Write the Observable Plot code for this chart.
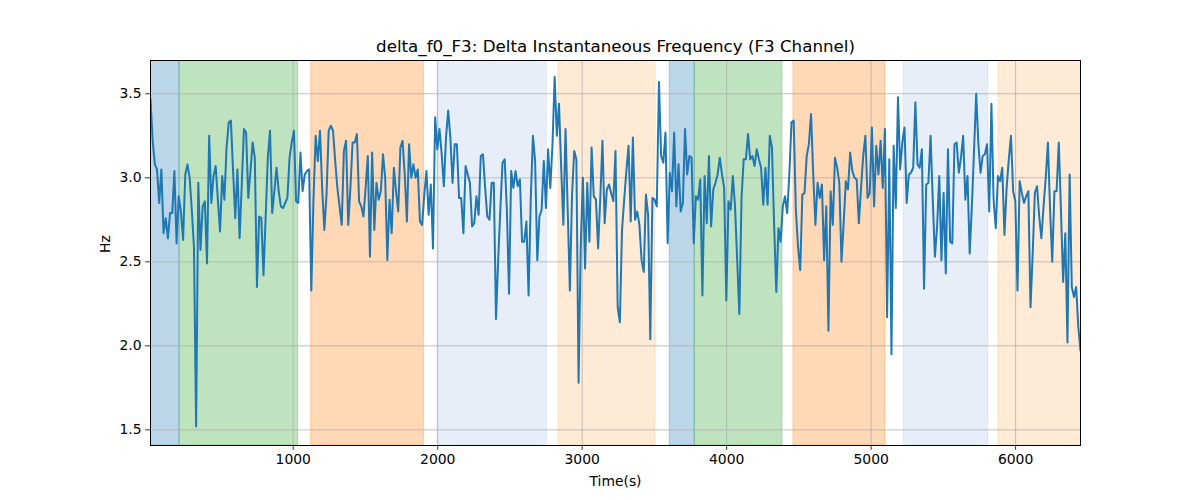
<!DOCTYPE html>
<html>
<head>
<meta charset="utf-8">
<script src="https://cdn.jsdelivr.net/npm/d3@7"></script>
<script src="https://cdn.jsdelivr.net/npm/@observablehq/plot@0.6"></script>
<style>
  body { margin: 0; background: #ffffff; }
  #chart svg { display: block; }
</style>
</head>
<body>
<div id="chart"></div>
<script>
// Sampled signal: uniform time steps starting at tStart
const tStart = 12;
const tStep = 15.04;
const values = [
  3.47, 3.22, 3.08, 3.05, 2.85, 3.05, 2.67, 2.76, 2.64, 2.79, 2.79, 3.04, 2.61, 2.89, 2.80, 2.63, 3.02, 3.08, 3.00, 2.81, 2.59, 1.52, 2.97, 2.57, 2.83, 2.86, 2.49, 3.25, 2.85, 3.01, 3.07, 2.87, 2.68, 3.01, 2.87,
  3.18, 3.33, 3.34, 3.04, 2.76, 3.05, 2.64, 2.96, 3.29, 3.27, 2.88, 3.04, 3.21, 3.12, 2.35, 2.77, 2.76, 2.42, 2.77, 3.12, 3.28, 2.79, 2.92, 3.06, 2.92, 2.83, 2.82, 2.85, 2.88, 3.12, 3.21, 3.28, 2.86, 2.85, 3.15, 2.92, 3.02,
  3.04, 3.05, 2.33, 2.87, 3.25, 3.10, 3.28, 2.94, 2.69, 2.90, 3.28, 3.31, 3.28, 3.10, 2.94, 2.83, 2.72, 3.16, 3.22, 2.72, 2.94, 3.21, 3.21, 3.26, 2.86, 2.83, 2.77, 2.94, 3.13, 2.53, 3.15, 2.69, 2.97, 2.87, 2.92, 3.14,
  3.00, 2.51, 2.87, 2.67, 3.06, 2.92, 2.80, 3.18, 3.22, 3.02, 2.74, 3.20, 3.00, 3.08, 3.00, 3.05, 2.74, 2.72, 2.90, 3.04, 2.78, 2.96, 2.58, 3.36, 3.17, 3.29, 3.14, 2.95, 3.24, 3.40, 3.24, 2.97, 3.20, 3.20, 2.88, 2.88,
  2.67, 3.07, 3.02, 2.97, 2.71, 2.73, 2.89, 2.78, 3.13, 3.14, 2.94, 2.77, 2.75, 2.97, 2.97, 2.16, 2.51, 2.81, 3.09, 3.11, 2.81, 2.31, 3.04, 2.94, 3.04, 2.95, 2.99, 2.62, 2.62, 2.74, 2.30, 2.87, 3.25, 3.10, 2.51, 2.77,
  2.81, 3.10, 2.82, 3.17, 2.94, 3.20, 3.60, 3.25, 3.44, 3.06, 2.72, 3.29, 2.81, 2.33, 2.90, 3.16, 3.11, 1.78, 2.59, 3.00, 2.46, 2.97, 2.62, 3.18, 2.89, 2.87, 2.58, 2.88, 3.22, 2.73, 2.93, 2.96, 2.91, 2.86, 3.16, 2.23,
  2.14, 2.69, 2.87, 3.04, 3.19, 2.74, 3.24, 2.75, 2.80, 2.72, 2.51, 2.44, 2.90, 2.78, 2.04, 2.88, 2.87, 2.83, 3.57, 3.13, 3.09, 3.27, 2.61, 3.03, 2.92, 3.27, 2.83, 3.08, 2.80, 2.85, 3.29, 3.02, 3.13, 3.12, 2.61, 2.89,
  2.87, 2.99, 2.30, 3.01, 2.73, 3.13, 2.71, 2.93, 2.97, 3.02, 3.12, 3.02, 2.94, 2.27, 2.86, 2.81, 3.01, 2.83, 2.51, 2.19, 2.88, 3.11, 3.11, 3.26, 3.11, 3.13, 3.07, 3.17, 3.11, 3.06, 2.84, 3.06, 2.84, 3.25, 3.18, 2.72,
  2.32, 2.70, 2.62, 2.83, 2.89, 2.79, 3.02, 3.33, 3.34, 2.81, 2.59, 2.45, 2.90, 2.91, 3.13, 3.20, 3.38, 3.02, 2.72, 2.97, 2.88, 2.96, 2.51, 2.83, 2.09, 2.92, 2.72, 3.12, 3.06, 2.97, 2.50, 2.73, 2.98, 2.93, 3.15, 3.04,
  3.00, 2.99, 2.73, 2.94, 3.13, 3.25, 2.88, 2.91, 3.30, 2.83, 3.19, 3.02, 3.22, 2.94, 3.29, 2.17, 3.11, 1.95, 3.19, 2.82, 3.48, 3.05, 3.21, 3.30, 2.85, 3.02, 3.03, 3.06, 3.45, 3.08, 3.06, 3.17, 2.34, 2.96, 2.97, 3.25,
  2.87, 2.53, 2.71, 3.01, 2.51, 2.91, 2.43, 3.17, 2.62, 2.61, 3.20, 3.21, 3.03, 3.12, 3.25, 2.87, 3.01, 2.55, 2.83, 3.16, 3.50, 3.20, 3.03, 3.13, 3.14, 3.20, 2.80, 3.44, 2.87, 2.70, 3.01, 2.98, 3.06, 2.66, 2.94, 3.11,
  3.25, 2.92, 2.86, 2.33, 2.98, 2.91, 2.85, 2.89, 2.92, 2.23, 2.55, 2.91, 2.95, 2.77, 2.64, 2.83, 3.00, 3.21, 2.81, 2.50, 2.92, 2.92, 3.21, 2.81, 2.38, 2.67, 2.02, 3.02, 2.35, 2.29, 2.35, 2.11, 1.97
];

// Shaded segments
const regionStart = [12, 213, 1124, 1998, 2836, 3606, 3779, 4462, 5226, 5881];
const regionEnd   = [213, 1034, 1906, 2755, 3507, 3779, 4386, 5099, 5812, 6460];
const regionColor = ["#1f77b4", "#2ca02c", "#ff7f0e", "#aec7e8", "#ffbb78",
                     "#1f77b4", "#2ca02c", "#ff7f0e", "#aec7e8", "#ffbb78"];

const xTicks = [1000, 2000, 3000, 4000, 5000, 6000];
const yTicks = [1.5, 2.0, 2.5, 3.0, 3.5];
const yDomain = [1.407, 3.698];

const titleText = "delta_f0_F3: Delta Instantaneous Frequency (F3 Channel)";
const xLabelText = "Time(s)";
const yLabelText = "Hz";

const series = values.map((v, i) => ({t: tStart + i * tStep, v}));
const tEnd = tStart + (values.length - 1) * tStep;
const regions = regionStart.map((s, i) => ({start: s, end: regionEnd[i], color: regionColor[i]}));

const gridStyle = {stroke: "#b0b0b0", strokeOpacity: 1, strokeWidth: 0.8};

const chart = Plot.plot({
  width: 1200,
  height: 500,
  marginLeft: 150,
  marginRight: 120,
  marginTop: 60,
  marginBottom: 55,
  style: {fontFamily: "'DejaVu Sans', sans-serif", fontSize: "13.9px", color: "black", background: "white", overflow: "visible"},
  x: {domain: [tStart, tEnd]},
  y: {domain: yDomain},
  color: {type: "identity"},
  marks: [
    Plot.rect(regions, {x1: "start", x2: "end", fill: "color", fillOpacity: 0.3, stroke: "color", strokeOpacity: 0.3, strokeWidth: 1, clip: true}),
    Plot.gridX(xTicks, gridStyle),
    Plot.gridY(yTicks, gridStyle),
    Plot.line(series, {x: "t", y: "v", stroke: "#1f77b4", strokeWidth: 2, clip: true}),
    Plot.frame({stroke: "black", strokeWidth: 1}),
    Plot.axisX(xTicks, {tickSize: 4.9, tickPadding: 4, tickFormat: d3.format("d"), label: null, stroke: "black", strokeWidth: 0.8, fontSize: 13.9}),
    Plot.axisY(yTicks, {tickSize: 4.9, tickPadding: 4, tickFormat: d3.format(".1f"), label: null, stroke: "black", strokeWidth: 0.8, fontSize: 13.9}),
    Plot.text([titleText], {frameAnchor: "top", dy: -14, lineAnchor: "middle", fontSize: 16.7, fill: "black"}),
    Plot.text([xLabelText], {frameAnchor: "bottom", dy: 36, lineAnchor: "middle", fontSize: 13.9, fill: "black"}),
    Plot.text([yLabelText], {frameAnchor: "left", dx: -45, rotate: -90, lineAnchor: "middle", fontSize: 13.9, fill: "black"})
  ]
});

document.getElementById("chart").appendChild(chart);
</script>
</body>
</html>
